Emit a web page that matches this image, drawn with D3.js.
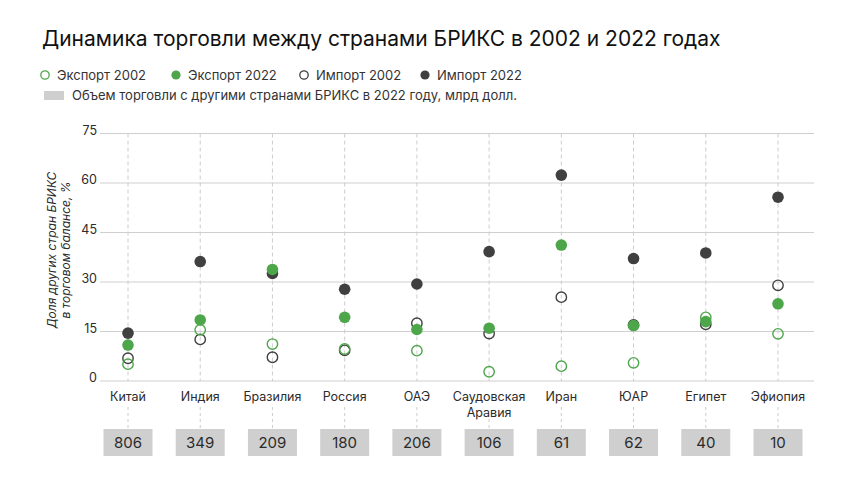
<!DOCTYPE html>
<html><head><meta charset="utf-8">
<script src="https://cdn.jsdelivr.net/npm/d3@7/dist/d3.min.js"></script>
<style>
body{margin:0;background:#fff;}
text{font-family:Inter,"Noto Sans",sans-serif;}
</style></head>
<body>
<svg id="c" width="860" height="484"></svg>
<script>
const countries = ["Китай","Индия","Бразилия","Россия","ОАЭ","Саудовская Аравия","Иран","ЮАР","Египет","Эфиопия"];
const export2002 = [5.1, 15.5, 11.2, 9.7, 9.2, 2.8, 4.5, 5.5, 19.3, 14.3];
const export2022 = [10.9, 18.5, 33.8, 19.3, 15.6, 16.0, 41.2, 16.8, 18.0, 23.4];
const import2002 = [6.9, 12.6, 7.2, 9.3, 17.5, 14.4, 25.4, 17.0, 17.2, 29.0];
const import2022 = [14.5, 36.2, 32.6, 27.8, 29.4, 39.2, 62.4, 37.1, 38.8, 55.7];
const tradeVolume = [806, 349, 209, 180, 206, 106, 61, 62, 40, 10];
const yTicks = [0, 15, 30, 45, 60, 75];

const GREEN = "#4ea64b", DARK = "#404040", GRID = "#cfcfcf", TXT = "#2b2b2b";
const svg = d3.select("#c");

// Title
svg.append("text").attr("x", 42).attr("y", 46).attr("font-size", 21)
  .attr("fill", "#111").text("Динамика торговли между странами БРИКС в 2002 и 2022 годах");

// Scales
const x = d3.scalePoint().domain(countries).range([128, 778]);
const y = d3.scaleLinear().domain([0, 75]).range([381, 133.5]);

// Horizontal grid
svg.append("g").selectAll("line").data(yTicks).join("line")
  .attr("x1", 100).attr("x2", 814)
  .attr("y1", d => y(d)).attr("y2", d => y(d))
  .attr("stroke", GRID).attr("stroke-width", 1.2);

// Y axis labels
const yAxis = d3.axisLeft(y).tickValues(yTicks).tickSize(0).tickPadding(0);
const yg = svg.append("g").attr("transform", "translate(97,0)").call(yAxis);
yg.select(".domain").remove();
yg.selectAll("text").attr("font-size", 12.5).attr("fill", TXT)
  .attr("font-family", "Inter, sans-serif").attr("dy", "0.05em");

// Y axis title
const yt = svg.append("text")
  .attr("font-size", 12).attr("font-style", "italic").attr("fill", TXT)
  .attr("text-anchor", "middle");
yt.append("tspan").attr("x", -250).attr("y", 56).text("Доля других стран БРИКС");
yt.append("tspan").attr("x", -250).attr("y", 70).text("в торговом балансе, %");
yt.attr("transform", "rotate(-90)");

// Vertical dashed lines in plot
svg.append("g").selectAll("line").data(countries).join("line")
  .attr("x1", d => x(d)).attr("x2", d => x(d))
  .attr("y1", y(75)).attr("y2", y(0))
  .attr("stroke", "#cccccc").attr("stroke-width", 1).attr("stroke-dasharray", "4,3");

// X labels
const xl = svg.append("g").selectAll("text").data(countries).join("text")
  .attr("x", d => x(d)).attr("y", 401).attr("text-anchor", "middle")
  .attr("font-size", 12.5).attr("fill", TXT);
xl.each(function(d) {
  const parts = d.split(" ");
  const t = d3.select(this);
  parts.forEach((p, i) => t.append("tspan").attr("x", x(d)).attr("dy", i ? 16 : 0).text(p));
});

// Dashed connectors label -> box
svg.append("g").selectAll("line").data(countries).join("line")
  .attr("x1", d => x(d)).attr("x2", d => x(d))
  .attr("y1", d => d.includes(" ") ? 419 : 407).attr("y2", 429)
  .attr("stroke", "#cccccc").attr("stroke-width", 1).attr("stroke-dasharray", "3,3");

// Boxes
const bw = 49;
const boxes = svg.append("g").selectAll("g").data(countries).join("g");
boxes.append("rect").attr("x", d => x(d) - bw / 2).attr("y", 429).attr("width", bw).attr("height", 27)
  .attr("fill", "#cfcfcf");
boxes.append("text").attr("x", d => x(d)).attr("y", 448).attr("text-anchor", "middle")
  .attr("font-size", 15).attr("fill", TXT).text((d, i) => tradeVolume[i]);

// Points
const R = 5.8;
const series = [
  {vals: import2002, open: true, color: DARK},
  {vals: export2002, open: true, color: GREEN},
  {vals: import2022, open: false, color: DARK},
  {vals: export2022, open: false, color: GREEN},
];
series.forEach(s => {
  svg.append("g").selectAll("circle").data(countries).join("circle")
    .attr("cx", d => x(d)).attr("cy", (d, i) => y(s.vals[i])).attr("r", s.open ? R - 0.6 : R)
    .attr("fill", s.open ? "none" : s.color).attr("stroke", s.color)
    .attr("stroke-width", s.open ? 1.4 : 0);
});

// Legend
const legendItems = [
  {label: "Экспорт 2002", open: true, color: GREEN, x: 45},
  {label: "Экспорт 2022", open: false, color: GREEN, x: 176},
  {label: "Импорт 2002", open: true, color: DARK, x: 304},
  {label: "Импорт 2022", open: false, color: DARK, x: 425},
];
const lg = svg.append("g").selectAll("g").data(legendItems).join("g");
lg.append("circle").attr("cx", d => d.x).attr("cy", 75).attr("r", d => d.open ? 4.2 : 4.6)
  .attr("fill", d => d.open ? "none" : d.color).attr("stroke", d => d.color)
  .attr("stroke-width", d => d.open ? 1.3 : 0);
lg.append("text").attr("x", d => d.x + 12).attr("y", 79.5).attr("font-size", 13)
  .attr("fill", "#333").text(d => d.label);
svg.append("rect").attr("x", 44).attr("y", 91).attr("width", 20).attr("height", 9).attr("fill", "#cfcfcf");
svg.append("text").attr("x", 72).attr("y", 100).attr("font-size", 13).attr("fill", "#333")
  .text("Объем торговли с другими странами БРИКС в 2022 году, млрд долл.");
</script>
</body></html>
